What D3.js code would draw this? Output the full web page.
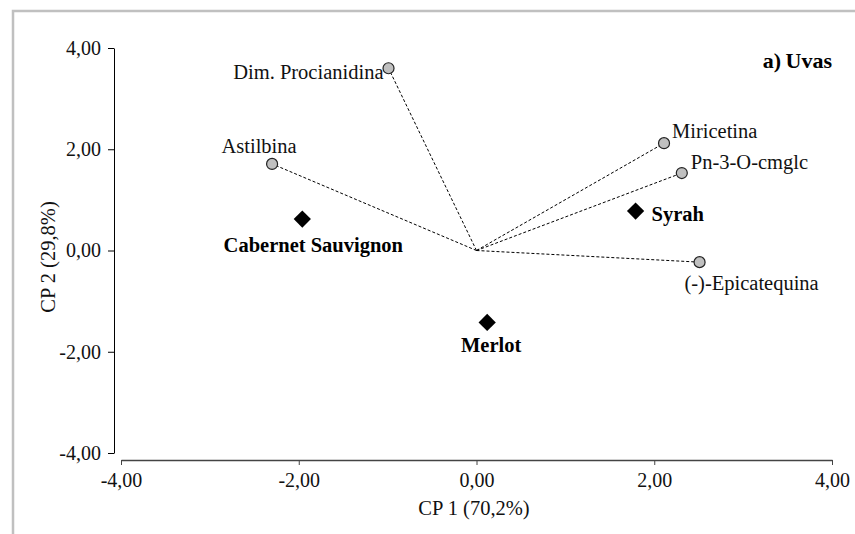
<!DOCTYPE html>
<html>
<head>
<meta charset="utf-8">
<script src="https://cdn.jsdelivr.net/npm/d3@7"></script>
<style>
  html, body { margin: 0; padding: 0; background: #fff; }
  svg { display: block; }
  svg text { font-family: "Liberation Serif", "Times New Roman", serif; }
</style>
</head>
<body>
<svg id="chart" width="855" height="534"></svg>
<script>
// Loadings (variables) on CP1 / CP2
const varNames = ["Dim. Procianidina", "Astilbina", "Miricetina", "Pn-3-O-cmglc", "(-)-Epicatequina"];
const varCP1 = [-0.99, -2.30, 2.11, 2.31, 2.51];
const varCP2 = [3.60, 1.71, 2.12, 1.53, -0.23];

// Scores (grape cultivars)
const cultivars = ["Cabernet Sauvignon", "Syrah", "Merlot"];
const cultCP1 = [-1.96, 1.79, 0.12];
const cultCP2 = [0.62, 0.78, -1.42];

const tickValues = [-4, -2, 0, 2, 4];
const xTitle = "CP 1 (70,2%)";
const yTitle = "CP 2 (29,8%)";
const panelTitle = "a) Uvas";

const FONT = "Liberation Serif";
const svg = d3.select("#chart");
const W = 855, H = 534;
// comma decimals, plain hyphen for negatives
const fmt = v => (v < 0 ? "-" : "") + Math.abs(v).toFixed(2).replace(".", ",");

const x = d3.scaleLinear().domain([-4, 4]).range([121, 832]);
const y = d3.scaleLinear().domain([-4, 4]).range([453, 48]);

// outer frame
svg.append("rect")
  .attr("x", 13).attr("y", 11)
  .attr("width", W).attr("height", H)
  .attr("fill", "none").attr("stroke", "#c0c0c0").attr("stroke-width", 2.5);

// x axis
const xAxisY = 460;
const gx = svg.append("g").attr("transform", `translate(0,${xAxisY})`)
  .call(d3.axisBottom(x).tickValues(tickValues).tickFormat(fmt).tickSizeInner(5).tickSizeOuter(0).tickPadding(8));
gx.select(".domain").attr("stroke", "#444").attr("stroke-width", 1.6);
gx.selectAll(".tick line").attr("stroke", "#444");
gx.selectAll("text").attr("font-size", 20).attr("font-family", FONT).attr("fill", "#111");

// y axis
const yAxisX = 114;
const gy = svg.append("g").attr("transform", `translate(${yAxisX},0)`)
  .call(d3.axisLeft(y).tickValues(tickValues).tickFormat(fmt).tickSizeInner(6).tickSizeOuter(0).tickPadding(7));
gy.select(".domain").attr("stroke", "#000");
gy.selectAll("text").attr("font-size", 20).attr("font-family", FONT).attr("fill", "#111");

// axis titles
svg.append("text")
  .attr("x", 474).attr("y", 515)
  .attr("text-anchor", "middle").attr("font-family", FONT).attr("font-size", 20.5).attr("fill", "#111")
  .text(xTitle);
svg.append("text")
  .attr("transform", `translate(55,257) rotate(-90)`)
  .attr("text-anchor", "middle").attr("font-family", FONT).attr("font-size", 20.5).attr("fill", "#111")
  .text(yTitle);

// loading vectors from origin
const vars = varNames.map((n, i) => ({ name: n, cp1: varCP1[i], cp2: varCP2[i] }));
svg.append("g").selectAll("line").data(vars).join("line")
  .attr("x1", x(0)).attr("y1", y(0))
  .attr("x2", d => x(d.cp1)).attr("y2", d => y(d.cp2))
  .attr("stroke", "#000").attr("stroke-width", 1)
  .attr("stroke-dasharray", "3,2");

svg.append("g").selectAll("circle").data(vars).join("circle")
  .attr("cx", d => x(d.cp1)).attr("cy", d => y(d.cp2)).attr("r", 5.5)
  .attr("fill", "#c0c0c0").attr("stroke", "#222").attr("stroke-width", 1.2);

// variable labels: [dx, dy, anchor]
const varLabelPos = {
  "Dim. Procianidina": [-5, 11, "end"],
  "Astilbina": [-13, -11, "middle"],
  "Miricetina": [8, -5, "start"],
  "Pn-3-O-cmglc": [9, -4, "start"],
  "(-)-Epicatequina": [52, 28, "middle"]
};
svg.append("g").selectAll("text").data(vars).join("text")
  .attr("x", d => x(d.cp1) + varLabelPos[d.name][0])
  .attr("y", d => y(d.cp2) + varLabelPos[d.name][1])
  .attr("text-anchor", d => varLabelPos[d.name][2])
  .attr("font-family", FONT).attr("font-size", 20.5).attr("fill", "#111")
  .text(d => d.name);

// cultivar scores
const cults = cultivars.map((n, i) => ({ name: n, cp1: cultCP1[i], cp2: cultCP2[i] }));
const diamond = d3.symbol().type(d3.symbolDiamond2).size(190);
svg.append("g").selectAll("path").data(cults).join("path")
  .attr("transform", d => `translate(${x(d.cp1)},${y(d.cp2)})`)
  .attr("d", diamond)
  .attr("fill", "#000");

const cultLabelPos = {
  "Cabernet Sauvignon": [11, 33, "middle"],
  "Syrah": [16, 10, "start"],
  "Merlot": [4, 30, "middle"]
};
svg.append("g").selectAll("text").data(cults).join("text")
  .attr("x", d => x(d.cp1) + cultLabelPos[d.name][0])
  .attr("y", d => y(d.cp2) + cultLabelPos[d.name][1])
  .attr("text-anchor", d => cultLabelPos[d.name][2])
  .attr("font-family", FONT).attr("font-size", 20.5).attr("font-weight", "bold").attr("fill", "#000")
  .text(d => d.name);

// panel title
svg.append("text")
  .attr("x", 832).attr("y", 68)
  .attr("text-anchor", "end").attr("font-family", FONT).attr("font-size", 22).attr("font-weight", "bold")
  .attr("word-spacing", -1)
  .text(panelTitle);
</script>
</body>
</html>
